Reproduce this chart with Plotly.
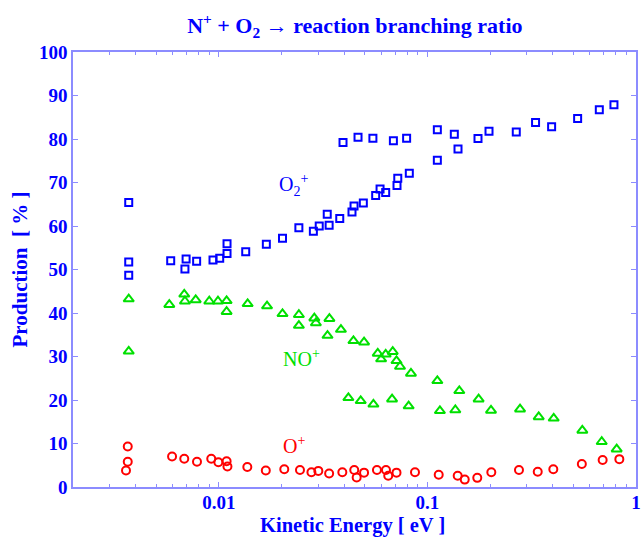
import numpy as np
import plotly.graph_objects as go

# ---- O2+ channel (kinetic energy in eV, production in %) ----
o2_energy = [0.0037, 0.0037, 0.0037, 0.00588, 0.00697, 0.00688, 0.00783, 0.00938,
             0.0101, 0.01095, 0.01095, 0.01346, 0.0169, 0.0202, 0.0242, 0.0284,
             0.0303, 0.0331, 0.0338, 0.0380, 0.0435, 0.0445, 0.0493, 0.0565,
             0.0593, 0.0631, 0.0715, 0.0721, 0.0819, 0.1116, 0.1402,
             0.0394, 0.0465, 0.0548, 0.0687, 0.0795, 0.1116, 0.1346, 0.1748,
             0.1974, 0.2667, 0.330, 0.394, 0.525, 0.667, 0.784]
o2_prod = [65.4, 51.7, 48.7, 52.0, 52.4, 50.1, 51.9, 52.2,
           52.6, 53.7, 55.9, 54.1, 55.8, 57.2, 59.6, 58.8,
           60.0, 62.7, 60.2, 61.7, 63.2, 64.6, 65.3, 67.0,
           68.5, 67.7, 69.3, 71.0, 72.1, 75.1, 77.7,
           79.2, 80.4, 80.2, 79.6, 80.2, 82.1, 81.1, 80.1,
           81.8, 81.6, 83.8, 82.8, 84.7, 86.7, 87.9]

# ---- NO+ channel ----
no_energy = [0.0037, 0.0037, 0.00579, 0.00683, 0.00688, 0.00775, 0.0090, 0.00991,
             0.0109, 0.0109, 0.01375, 0.01703, 0.0202, 0.0242, 0.0242, 0.0287,
             0.0292, 0.0339, 0.0332, 0.0385, 0.0442, 0.0497, 0.0578, 0.0600,
             0.0631, 0.0682, 0.0711, 0.0739, 0.0834, 0.1116, 0.1422, 0.1760,
             0.278, 0.3417, 0.4032, 0.553, 0.685, 0.808,
             0.0418, 0.0479, 0.0551, 0.0677, 0.0813, 0.1148, 0.1361, 0.2018]
no_prod = [43.2, 31.2, 41.9, 44.3, 42.7, 43.0, 42.7, 42.7,
           42.8, 40.3, 42.1, 41.6, 39.8, 39.6, 37.1, 38.8,
           37.7, 38.7, 34.8, 36.2, 33.6, 33.3, 30.7, 29.4,
           30.5, 31.1, 29.0, 27.7, 26.1, 24.4, 22.1, 20.2,
           17.9, 16.1, 15.8, 13.0, 10.4, 8.7,
           20.5, 19.8, 19.0, 20.2, 18.6, 17.5, 17.7, 17.6]

# ---- O+ channel ----
op_energy = [0.00366, 0.00366, 0.00359, 0.00597, 0.00683, 0.00786, 0.0092, 0.00995,
             0.0109, 0.0110, 0.0137, 0.0168, 0.0206, 0.0245, 0.0278, 0.0300,
             0.0338, 0.0391, 0.0446, 0.0458, 0.0497, 0.0573, 0.0633, 0.0649,
             0.0711, 0.0872, 0.1133, 0.1397, 0.151, 0.1734, 0.2025, 0.2748,
             0.338, 0.4014, 0.55, 0.692, 0.832]
op_prod = [9.3, 5.8, 3.8, 7.0, 6.5, 5.8, 6.5, 5.7,
           5.9, 4.7, 4.6, 3.8, 4.1, 3.9, 3.4, 3.7,
           3.1, 3.4, 3.9, 2.2, 3.3, 3.9, 3.9, 2.6,
           3.3, 3.4, 2.8, 2.6, 1.7, 2.1, 3.4, 3.9,
           3.5, 4.1, 5.3, 6.2, 6.4]

x_major = [0.01, 0.1, 1]
x_major_text = ["0.01", "0.1", "1"]
x_minor = [m * d for d in (0.001, 0.01, 0.1) for m in range(2, 10) if m * d > 0.0019]
y_ticks = list(range(0, 101, 10))

BLUE = "#0000ff"
GREEN = "#00e000"
RED = "#ff0000"
AXIS = "#8c8cff"
SERIF = "Liberation Serif"

fig = go.Figure()
fig.add_trace(go.Scatter(x=o2_energy, y=o2_prod, mode="markers", name="O2+",
                         marker=dict(symbol="square-open", size=7, color=BLUE,
                                     line=dict(width=2, color=BLUE))))
fig.add_trace(go.Scatter(x=no_energy, y=no_prod, mode="markers", name="NO+",
                         marker=dict(symbol="triangle-up-open", size=9, color=GREEN,
                                     line=dict(width=2, color=GREEN))))
fig.add_trace(go.Scatter(x=op_energy, y=op_prod, mode="markers", name="O+",
                         marker=dict(symbol="circle-open", size=8, color=RED,
                                     line=dict(width=2, color=RED))))

tick_font = dict(family=SERIF, size=19, color=BLUE, weight="bold")
axis_title_font = dict(family=SERIF, size=21, color=BLUE, weight="bold")

fig.update_layout(
    width=644, height=537,
    margin=dict(l=73, r=8, t=52, b=50),
    paper_bgcolor="white", plot_bgcolor="white",
    showlegend=False,
    title=dict(text="N<sup>+</sup> + O<sub>2</sub> \u2192 reaction branching ratio",
               x=0.551, xanchor="center", y=0.953, yanchor="middle",
               font=dict(family=SERIF, size=22, color=BLUE, weight="bold")),
    xaxis=dict(type="log", range=[np.log10(0.002), 0],
               tickvals=x_major, ticktext=x_major_text,
               ticks="inside", ticklen=5, tickcolor=AXIS, tickwidth=1,
               ticklabelstandoff=-3,
               minor=dict(tickvals=x_minor, ticks="inside", ticklen=3,
                          tickcolor=AXIS, tickwidth=1),
               showline=True, linecolor=AXIS, linewidth=1.5, mirror="allticks",
               showgrid=False, zeroline=False, automargin=False,
               tickfont=tick_font),
    yaxis=dict(range=[0, 100], tickvals=y_ticks,
               ticks="inside", ticklen=5, tickcolor=AXIS, tickwidth=1,
               showline=True, linecolor=AXIS, linewidth=1.5, mirror="allticks",
               showgrid=False, zeroline=False, automargin=False,
               tickfont=tick_font,
               title=dict(text="Production  [ % ]", font=axis_title_font, standoff=6)),
)

# x-axis title, set just under the tick labels at the bottom of the figure
fig.add_annotation(text="Kinetic Energy [ eV ]", x=0.497, y=-0.117,
                   xref="paper", yref="paper", showarrow=False,
                   xanchor="center", yanchor="bottom", borderpad=0,
                   font=dict(family=SERIF, size=20.5, color=BLUE, weight="bold"))

# Species labels next to each branch
species = [("O<sub>2</sub><sup>+</sup>", 0.392, 0.695, BLUE),
           ("NO<sup>+</sup>", 0.405, 0.297, GREEN),
           ("O<sup>+</sup>", 0.392, 0.096, RED)]
for text, xp, yp, col in species:
    fig.add_annotation(text=text, x=xp, y=yp, xref="paper", yref="paper",
                       showarrow=False, xanchor="center", yanchor="middle",
                       font=dict(family=SERIF, size=20, color=col))

fig.write_html("out.html")
